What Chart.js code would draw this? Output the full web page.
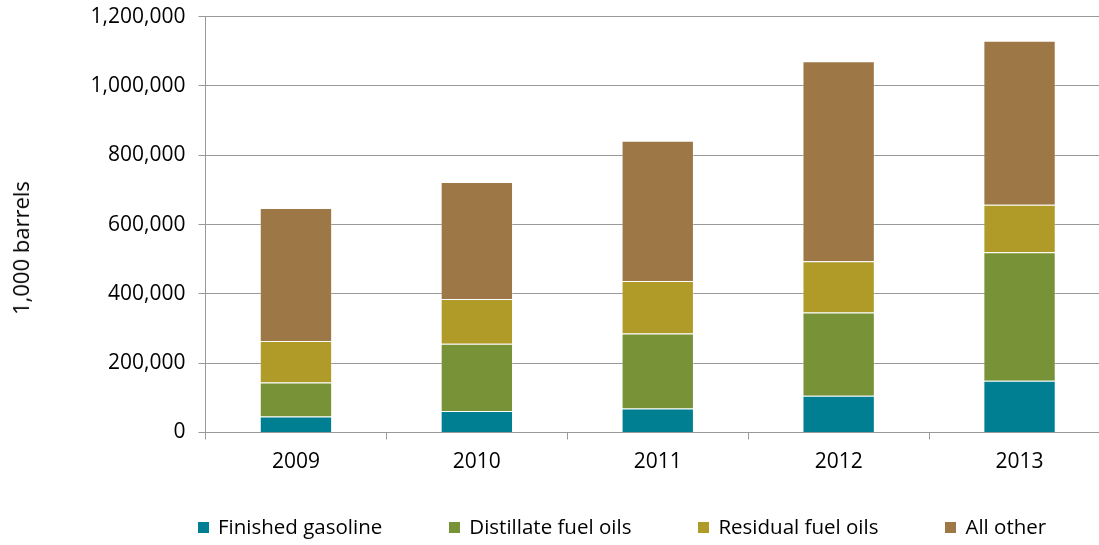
<!DOCTYPE html>
<html>
<head>
<meta charset="utf-8">
<script src="https://cdn.jsdelivr.net/npm/chart.js@4/dist/chart.umd.min.js"></script>
<style>
  html, body { margin: 0; padding: 0; background: #fff; overflow: hidden; }
  #wrap { position: relative; width: 1099px; height: 545px; overflow: hidden; }
  #box { position: absolute; left: 0; top: 0; width: 1110px; height: 545px; }
  #ytitle {
    position: absolute; left: 20px; top: 248px; white-space: nowrap;
    font-family: "Open Sans", sans-serif; font-size: 22px; color: #000;
    transform: translate(-50%, -50%) rotate(-90deg);
  }
  #legend {
    position: absolute; left: 198px; top: 512px; white-space: nowrap;
    font-family: "Open Sans", sans-serif; font-size: 20.5px; color: #000;
    line-height: 28px;
  }
  #legend span { display: inline-block; margin-right: 67px; }
  #legend span:last-child { margin-right: 0; }
  #legend i {
    display: inline-block; width: 11px; height: 11px; margin-right: 9px;
    vertical-align: 1px;
  }
</style>
</head>
<body>
<div id="wrap">
  <div id="box"><canvas id="c"></canvas></div>
  <div id="ytitle">1,000 barrels</div>
  <div id="legend"></div>
</div>
<script>
const years = ["2009", "2010", "2011", "2012", "2013"];
// thousand barrels
const gasoline = [46000, 62000, 69000, 106000, 149000];
const distillate = [98000, 194000, 217000, 240000, 371000];
const residual = [120000, 129000, 151000, 148000, 137000];
const allOther = [384000, 338000, 405000, 577000, 473000];

const seriesNames = ["Finished gasoline", "Distillate fuel oils", "Residual fuel oils", "All other"];
const seriesColors = ["#007f93", "#779237", "#b09a28", "#9d7746"];
const seriesData = [gasoline, distillate, residual, allOther];

const font = "'Open Sans', sans-serif";
const canvas = document.getElementById("c");
canvas.width = 1110;
canvas.height = 545;
canvas.style.width = "1110px";
canvas.style.height = "545px";

new Chart(canvas, {
  type: "bar",
  data: {
    labels: years,
    datasets: seriesData.map((d, i) => ({
      label: seriesNames[i],
      data: d,
      backgroundColor: seriesColors[i],
      borderColor: "rgba(255,255,255,0.3)",
      borderWidth: 1,
      categoryPercentage: 0.4,
      barPercentage: 1,
    })),
  },
  options: {
    responsive: false,
    animation: false,
    layout: { padding: { top: 16.6, bottom: 0, left: 0, right: 0 } },
    plugins: {
      legend: { display: false },
      tooltip: { enabled: false },
    },
    scales: {
      x: {
        stacked: true,
        border: { color: "#999", width: 1 },
        grid: { offset: true, drawOnChartArea: false, drawTicks: true, tickLength: 7, color: "#999" },
        ticks: { color: "#000", font: { family: font, size: 21 }, padding: 10 },
        afterFit(s) { s.height = 545 - 432.5; },
      },
      y: {
        stacked: true,
        min: 0,
        max: 1200000,
        border: { color: "#999", width: 1 },
        grid: { color: "#999", tickLength: 7 },
        ticks: {
          stepSize: 200000,
          color: "#000",
          padding: 13,
          font: { family: font, size: 21 },
          callback: (v) => Number(v).toLocaleString("en-US"),
        },
        afterFit(s) {
          s.width = 205.5;
          s.paddingTop = 0;
          s.paddingBottom = 0;
        },
      },
    },
  },
});

document.getElementById("legend").innerHTML = seriesNames
  .map((n, i) => `<span><i style="background:${seriesColors[i]}"></i>${n}</span>`)
  .join("");
</script>
</body>
</html>
